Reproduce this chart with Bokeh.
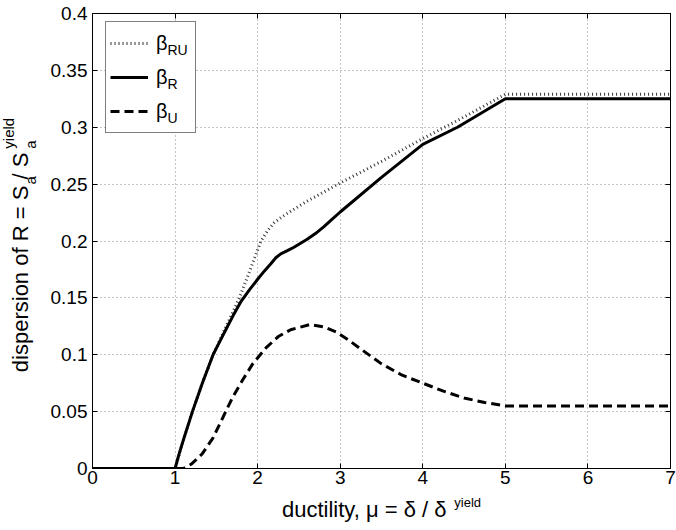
from math import pi
from bokeh.plotting import figure
from bokeh.layouts import row, column
from bokeh.models import (FixedTicker, LinearAxis, Label, Legend, LegendItem,
                          NumeralTickFormatter, BoxAnnotation)
from bokeh.embed import file_html
from bokeh.resources import INLINE

# ---------------- data ----------------
mu_ru = [0.0, 1.0, 1.1, 1.21, 1.33, 1.46, 1.6, 1.78, 1.9, 2.04, 2.12, 2.2,
         2.3, 2.44, 2.6, 3.0, 3.5, 4.0, 4.5, 5.0, 7.0]
beta_ru = [0.0, 0.0, 0.025, 0.05, 0.075, 0.1, 0.122, 0.15, 0.173, 0.2, 0.209,
           0.216, 0.2215, 0.228, 0.235, 0.251, 0.27, 0.29, 0.309, 0.329, 0.329]

mu_r = [0.0, 1.0, 1.05, 1.1, 1.21, 1.33, 1.46, 1.53, 1.6, 1.7, 1.8, 1.9, 2.0,
        2.08, 2.16, 2.22, 2.28, 2.36, 2.44, 2.52, 2.6, 2.7, 2.8, 2.9, 3.0,
        3.5, 4.0, 4.42, 5.0, 7.0]
beta_r = [0.0, 0.0, 0.013, 0.025, 0.05, 0.075, 0.1, 0.11, 0.12, 0.134, 0.147,
          0.157, 0.1664, 0.1735, 0.18, 0.1853, 0.1887, 0.1915, 0.1945, 0.198,
          0.2015, 0.2065, 0.2125, 0.219, 0.2255, 0.256, 0.285, 0.3, 0.325,
          0.325]

mu_u = [0.0, 1.0, 1.1, 1.2, 1.33, 1.46, 1.58, 1.7, 1.82, 1.94, 2.1, 2.25,
        2.4, 2.63, 2.8, 2.95, 3.1, 3.25, 3.5, 3.75, 4.0, 4.25, 4.5, 4.75,
        5.0, 7.0]
beta_u = [0.0, 0.0, 0.0, 0.004, 0.013, 0.027, 0.045, 0.063, 0.078, 0.092,
          0.106, 0.116, 0.122, 0.1265, 0.1245, 0.12, 0.113, 0.105, 0.092,
          0.082, 0.075, 0.068, 0.062, 0.058, 0.055, 0.055]

x_ticks = [0, 1, 2, 3, 4, 5, 6, 7]
y_ticks = [0, 0.05, 0.1, 0.15, 0.2, 0.25, 0.3, 0.35, 0.4]

series_labels = ["β", "β", "β"]
series_subs = ["RU", "R", "U"]

# ---------------- styling / layout constants ----------------
FONT = "Liberation Sans"
W = {' ': 278, 'd': 556, 'i': 222, 's': 500, 'p': 556, 'e': 556, 'r': 333,
     'o': 556, 'n': 556, 'f': 278, 'R': 722, '=': 584, 'S': 667, 'a': 556,
     '/': 278, 'y': 500, 'l': 222, 'u': 556, 'c': 500, 't': 278, ',': 278,
     'μ': 576, 'δ': 556, 'β': 573}


def tw(s, size):
    return sum(W.get(ch, 556) for ch in s) * size / 1000.0


BASE_FIX = 0.36      # Bokeh "alphabetic" anchor correction (fraction of size)
ASCENT = 0.905       # Liberation Sans ascent (fraction of size), for "top"
ROT_MAIN_FIX = 18    # observed along-axis drift of the long rotated string

TOTAL_W, TOTAL_H = 676, 530
LEFT_W = 40
BOTTOM_H = 34
MAIN_W = TOTAL_W - LEFT_W
MAIN_H = TOTAL_H - BOTTOM_H
FRAME_L, FRAME_R, FRAME_T, FRAME_B = 92, 670, 13, 468   # page px
LEG_L, LEG_T, LEG_R, LEG_B = 105, 22, 194, 133          # page px


def px2x(px):
    return (px - FRAME_L) * (x_ticks[-1] - x_ticks[0]) / (FRAME_R - FRAME_L)


def py2y(py):
    return (FRAME_B - py) * (y_ticks[-1] - y_ticks[0]) / (FRAME_B - FRAME_T)


def text_strip(width, height, x0, y0):
    f = figure(width=width, height=height, x_range=(x0, x0 + width),
               y_range=(y0, y0 + height), x_axis_type=None, y_axis_type=None,
               output_backend="svg", toolbar_location=None, min_border=0)
    f.outline_line_color = None
    f.background_fill_color = "white"
    f.border_fill_color = "white"
    return f


def lab(**kw):
    base = dict(text_font=FONT, text_color="black", text_baseline="alphabetic",
                text_align="left")
    base.update(kw)
    return Label(**base)


# ---------------- main plot ----------------
p = figure(width=MAIN_W, height=MAIN_H, x_range=(0, 7), y_range=(0, 0.4),
           output_backend="svg", toolbar_location=None,
           min_border_left=FRAME_L - LEFT_W, min_border_right=TOTAL_W - FRAME_R,
           min_border_top=FRAME_T, min_border_bottom=MAIN_H - FRAME_B)
p.background_fill_color = "white"
p.border_fill_color = "white"
p.outline_line_color = "black"
p.outline_line_width = 1

xt = FixedTicker(ticks=x_ticks)
yt = FixedTicker(ticks=y_ticks)

for ax, t in ((p.xaxis[0], xt), (p.yaxis[0], yt)):
    ax.ticker = t
    ax.axis_line_color = "black"
    ax.major_tick_line_color = "black"
    ax.major_tick_in = 5
    ax.major_tick_out = 0
    ax.minor_tick_line_color = None
    ax.major_label_text_font = FONT
    ax.major_label_text_font_size = "19px"
    ax.major_label_text_color = "black"
p.xaxis[0].major_label_standoff = 2
p.yaxis[0].major_label_standoff = 5
p.yaxis[0].formatter = NumeralTickFormatter(format="0.[00]")

for loc, t in (("above", xt), ("right", yt)):
    ax = LinearAxis(ticker=t, major_label_text_color=None,
                    major_tick_in=5, major_tick_out=0, major_label_standoff=0,
                    minor_tick_line_color=None, axis_line_color="black",
                    major_tick_line_color="black")
    p.add_layout(ax, loc)

p.xgrid.ticker = xt
p.ygrid.ticker = yt
for g in (p.xgrid, p.ygrid):
    g.grid_line_color = "#8a8a8a"
    g.grid_line_dash = "1 3"
    g.grid_line_width = 1

# white backing of the legend (hides the grid under the legend box)
p.add_layout(BoxAnnotation(left=px2x(LEG_L), right=px2x(LEG_R),
                           top=py2y(LEG_T), bottom=py2y(LEG_B),
                           fill_color="white", fill_alpha=1, line_color=None,
                           level="underlay"))

# ---------------- series ----------------
r_ru = p.line(mu_ru, beta_ru, line_color="#333333", line_width=3,
              line_dash="1 3", line_cap="butt")
r_r = p.line(mu_r, beta_r, line_color="black", line_width=3,
             line_join="round")
r_u = p.line(mu_u, beta_u, line_color="black", line_width=3, line_dash="9 5")

legend = Legend(items=[LegendItem(label=series_labels[i], renderers=[r])
                       for i, r in enumerate((r_ru, r_r, r_u))],
                location=(LEG_L - FRAME_L, FRAME_B - LEG_B), padding=4,
                spacing=0, margin=0,
                glyph_width=38, glyph_height=34, label_height=34,
                label_width=35, label_standoff=8,
                label_text_font=FONT, label_text_font_size="20px",
                label_text_color="black",
                border_line_color="black", border_line_width=1,
                background_fill_alpha=0)
p.add_layout(legend)

# legend subscripts
for i, sub in enumerate(series_subs):
    base_py = 55 + 34 * i
    p.add_layout(lab(x=0, y=y_ticks[-1], x_offset=167 - FRAME_L,
                     y_offset=-(base_py - BASE_FIX * 14 - FRAME_T),
                     text=sub, text_font_size="14px"))

# ---------------- y-axis title strip: dispersion of R = S_a / S_a^yield ----
lft = text_strip(LEFT_W, MAIN_H, 0, TOTAL_H - MAIN_H)   # y = 530 - page y
ys, ss = 22, 15
yl_head = "dispersion of R = S"
yl_main = yl_head + "  / S"          # gap after the first S holds subscript a
sub1_along = tw(yl_head, ys)
sub2_along = tw(yl_main, ys)
ystart = TOTAL_H - 373
for txt, along, bx, size in ((yl_main, -ROT_MAIN_FIX, 27, ys),
                             ("a", sub1_along, 35, ss),
                             ("a", sub2_along, 35, ss),
                             ("yield", sub2_along, 13, ss)):
    lft.add_layout(lab(x=bx - ASCENT * size, y=ystart + along, angle=pi / 2,
                       text=txt, text_font_size=f"{size}px",
                       text_baseline="top"))

# ---------------- x-axis title strip: ductility, μ = δ / δ^yield ----------
bot = text_strip(TOTAL_W, BOTTOM_H, 0, 0)        # x = page x, y = 530 - page y
xl_main = "ductility, μ = δ / δ"
xl_sup = "yield"
xw_main = tw(xl_main, 22)
xw_total = xw_main + tw(" ", 22) + tw(xl_sup, 13)
xstart = (FRAME_L + FRAME_R) / 2.0 - xw_total / 2.0
bot.add_layout(lab(x=xstart, y=TOTAL_H - (517 - BASE_FIX * 22),
                   text=xl_main, text_font_size="22px"))
bot.add_layout(lab(x=xstart + xw_main + tw(" ", 22),
                   y=TOTAL_H - (507 - BASE_FIX * 13),
                   text=xl_sup, text_font_size="13px"))

layout = column(row(lft, p), bot)
open("out.html", "w").write(file_html(layout, INLINE))
